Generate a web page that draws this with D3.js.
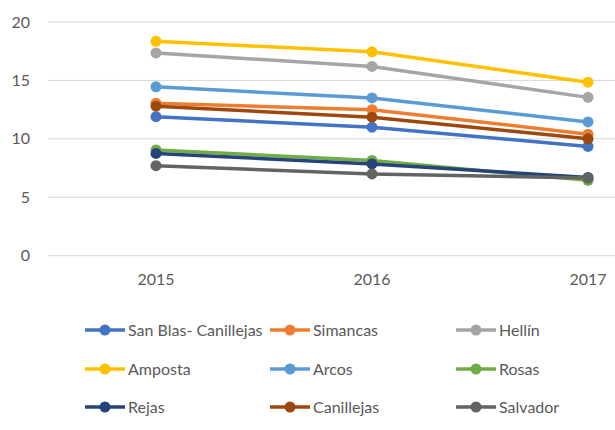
<!DOCTYPE html>
<html>
<head>
<meta charset="utf-8">
<script src="https://cdn.jsdelivr.net/npm/d3@7"></script>
<style>
  body { margin: 0; background: #fff; }
  text { font-family: Lato, "Open Sans", sans-serif; fill: #595959; }
</style>
</head>
<body>
<svg width="615" height="430"></svg>
<script>
var years = ["2015", "2016", "2017"];
var names = ["San Blas- Canillejas", "Simancas", "Hellín", "Amposta", "Arcos", "Rosas", "Rejas", "Canillejas", "Salvador"];
var colors = ["#4472C4", "#ED7D31", "#A5A5A5", "#FFC000", "#5B9BD5", "#70AD47", "#264478", "#9E480E", "#636363"];
var sanBlas = [11.9, 11.0, 9.35];
var simancas = [13.05, 12.5, 10.4];
var hellin = [17.35, 16.2, 13.55];
var amposta = [18.35, 17.45, 14.85];
var arcos = [14.45, 13.5, 11.45];
var rosas = [9.05, 8.15, 6.45];
var rejas = [8.75, 7.85, 6.7];
var canillejas = [12.8, 11.85, 10.0];
var salvador = [7.7, 7.0, 6.65];
var yTicks = [0, 5, 10, 15, 20];

var values = [sanBlas, simancas, hellin, amposta, arcos, rosas, rejas, canillejas, salvador];
var series = names.map(function(n, i) { return { name: n, color: colors[i], values: values[i] }; });

var svg = d3.select("svg");

var x = d3.scaleBand().domain(years).range([48, 696]);
var y = d3.scaleLinear().domain([0, 20]).range([255.7, 22]);

// gridlines
svg.append("g").selectAll("line")
  .data(yTicks)
  .enter().append("line")
    .attr("x1", 48).attr("x2", 615)
    .attr("y1", function(d) { return y(d); })
    .attr("y2", function(d) { return y(d); })
    .attr("stroke", "#d9d9d9")
    .attr("stroke-width", 1);

var yAxis = svg.append("g")
  .attr("transform", "translate(30,0)")
  .call(d3.axisLeft(y).tickValues(yTicks).tickSize(0).tickPadding(0));
yAxis.select(".domain").remove();
yAxis.selectAll("text").style("font-size", "16px").attr("text-anchor", "end");

var xAxis = svg.append("g")
  .attr("transform", "translate(0,270)")
  .call(d3.axisBottom(x).tickSize(0).tickPadding(4));
xAxis.select(".domain").remove();
xAxis.selectAll("text").style("font-size", "16px");

var line = d3.line()
  .x(function(d, i) { return x(years[i]) + x.bandwidth() / 2; })
  .y(function(d) { return y(d); });

var s = svg.selectAll(".series")
  .data(series)
  .enter().append("g")
    .attr("class", "series");

s.append("path")
  .attr("d", function(d) { return line(d.values); })
  .attr("fill", "none")
  .attr("stroke", function(d) { return d.color; })
  .attr("stroke-width", 3.5);

s.selectAll("circle")
  .data(function(d) { return d.values.map(function(v, i) { return { v: v, i: i, color: d.color }; }); })
  .enter().append("circle")
    .attr("cx", function(d) { return x(years[d.i]) + x.bandwidth() / 2; })
    .attr("cy", function(d) { return y(d.v); })
    .attr("r", 5.5)
    .attr("fill", function(d) { return d.color; });

// legend
var colX = [85, 270, 456];
var rowY = [330, 369, 407];
var leg = svg.selectAll(".legend")
  .data(series)
  .enter().append("g")
    .attr("class", "legend")
    .attr("transform", function(d, i) { return "translate(" + colX[i % 3] + "," + rowY[Math.floor(i / 3)] + ")"; });

leg.append("line")
  .attr("x1", 0).attr("x2", 40)
  .attr("stroke", function(d) { return d.color; })
  .attr("stroke-width", 3.5);
leg.append("circle")
  .attr("cx", 20).attr("r", 5.5)
  .attr("fill", function(d) { return d.color; });
leg.append("text")
  .attr("x", 43)
  .attr("dy", "0.35em")
  .style("font-size", "16px")
  .text(function(d) { return d.name; });
</script>
</body>
</html>
